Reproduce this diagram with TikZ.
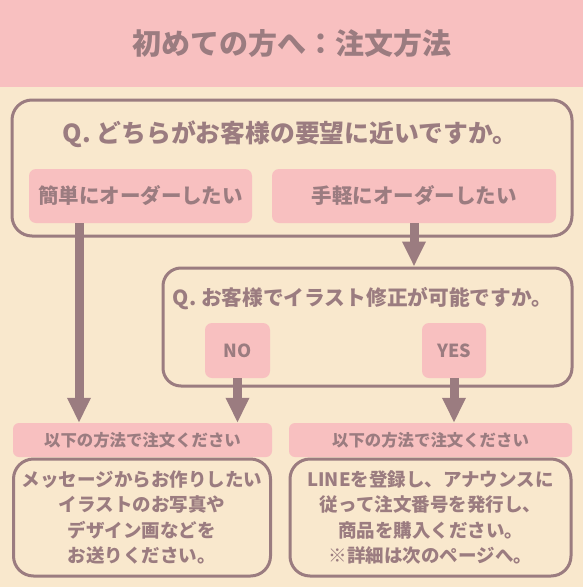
\documentclass[tikz,border=0pt]{standalone}
\usepackage{fontspec}
\setmainfont{Noto Sans CJK JP}
\usetikzlibrary{arrows.meta}
\definecolor{headpink}{RGB}{248,192,192}
\definecolor{paper}{RGB}{249,232,205}
\definecolor{mocha}{RGB}{155,124,128}

\begin{document}
\begin{tikzpicture}[x=1pt, y=-1pt,
  qbox/.style={draw=mocha, line width=3pt, rounded corners=20pt, fill=paper, inner sep=0pt},
  pbox/.style={fill=headpink, rounded corners=7pt, text=mocha, inner sep=0pt},
  qtext/.style={text=mocha, inner sep=0pt},
  note/.style={draw=mocha, line width=3pt, rounded corners=20pt, fill=paper, text=mocha, align=center, inner sep=0pt, minimum height=117pt, font=\bfseries\fontsize{18.5}{25.5}\selectfont},
  flow/.style={draw=mocha, line width=9pt, -{Triangle[length=25pt, width=22pt]}}
]
  % page and header band
  \useasboundingbox (0,0) rectangle (583,587);
  \fill[paper] (0,0) rectangle (583,587);
  \node[fill=headpink, text=mocha, anchor=north west, minimum width=583pt, minimum height=87pt, inner sep=0pt, font=\bfseries\fontsize{29}{34}\selectfont] (head) at (0,0) {初めての方へ：注文方法};

  % first question
  \node[qbox, minimum width=560pt, minimum height=136pt] (qone) at (292,168) {};
  \node[qtext, font=\bfseries\fontsize{24.8}{29}\selectfont] (qonetext) at (290,134) {Q. どちらがお客様の要望に近いですか。};
  \node[pbox, minimum width=223pt, minimum height=54pt, font=\bfseries\fontsize{20.5}{24}\selectfont] (easy) at (140.5,196) {簡単にオーダーしたい};
  \node[pbox, minimum width=284pt, minimum height=54pt, font=\bfseries\fontsize{20.5}{24}\selectfont] (light) at (414,196) {手軽にオーダーしたい};

  % second question
  \node[qbox, rounded corners=18pt, minimum width=409pt, minimum height=118pt] (qtwo) at (367.5,327) {};
  \node[qtext, font=\bfseries\fontsize{20.7}{24}\selectfont] (qtwotext) at (362.5,299) {Q. お客様でイラスト修正が可能ですか。};
  \node[pbox, minimum width=65pt, minimum height=55pt, font=\bfseries\fontsize{18}{22}\selectfont] (no) at (237.5,350.5) {NO};
  \node[pbox, minimum width=64pt, minimum height=55pt, font=\bfseries\fontsize{18}{22}\selectfont] (yes) at (454,350.5) {YES};

  % results
  \node[pbox, rounded corners=6pt, minimum width=259pt, minimum height=34pt, font=\bfseries\fontsize{16.4}{20}\selectfont] (lblL) at (142.5,440) {以下の方法で注文ください};
  \node[pbox, rounded corners=6pt, minimum width=283pt, minimum height=34pt, font=\bfseries\fontsize{16.4}{20}\selectfont] (lblR) at (430.5,440) {以下の方法で注文ください};
  \node[note, minimum width=257pt] (noteL) at (142,517.5) {メッセージからお作りしたい\\イラストのお写真や\\デザイン画などを\\お送りください。};
  \node[note, minimum width=281pt] (noteR) at (430.5,517.5) {LINEを登録し、アナウンスに\\従って注文番号を発行し、\\商品を購入ください。\\※詳細は次のページへ。};

  % arrows
  \draw[flow] ([xshift=-61.5pt]easy.south) -- ([xshift=-61.5pt]easy.south |- lblL.north);
  \draw[flow] (light.south) -- (light.south |- qtwo.north);
  \draw[flow] (no.south) -- (no.south |- lblL.north);
  \draw[flow] (yes.south) -- (yes.south |- lblR.north);
\end{tikzpicture}
\end{document}
